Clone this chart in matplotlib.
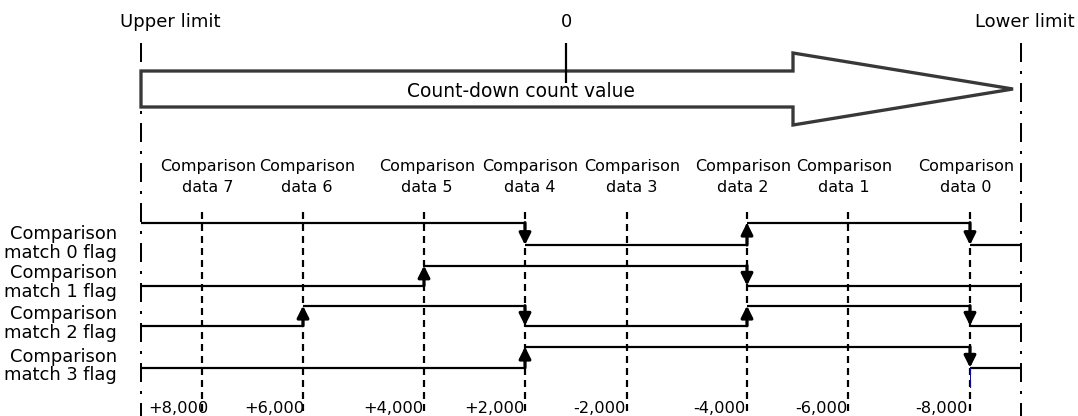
import matplotlib
matplotlib.use("Agg")
import matplotlib.pyplot as plt
from matplotlib.patches import Polygon
from matplotlib.patches import ArrowStyle

plt.rcParams['font.family'] = ['DejaVu Sans']
plt.rcParams['lines.scale_dashes'] = False

# ---------------- data ----------------
compare_ids = [7, 6, 5, 4, 3, 2, 1, 0]
count_labels = ['+8,000', '+6,000', '+4,000', '+2,000', '-2,000', '-4,000', '-6,000', '-8,000']
flag_ids = [0, 1, 2, 3]
# flag states in the 9 intervals: upper limit | d7 | d6 | d5 | d4 | d3 | d2 | d1 | d0 | lower limit
flag0_states = [1, 1, 1, 1, 0, 0, 1, 1, 0]
flag1_states = [0, 0, 0, 1, 1, 1, 0, 0, 0]
flag2_states = [0, 0, 1, 1, 0, 0, 1, 1, 0]
flag3_states = [0, 0, 0, 0, 1, 1, 1, 1, 0]
flag_states = [flag0_states, flag1_states, flag2_states, flag3_states]

# ---------------- layout (pixels) ----------------
W, H = 1078, 416
x_upper, x_lower, x_zero = 141, 1021, 566
x_lines = [202, 303, 424, 525, 627, 747, 848, 970]
x_cmp_text = [208, 307, 427, 530, 632, 743, 844, 966]
x_cnt_text = [208, 304, 423, 524, 626, 746, 847, 968]
y_high = [222.7, 265.5, 305.7, 346.7]
y_low = [245.0, 285.7, 325.7, 367.7]
y_lbl1 = [239, 278, 319, 362]
y_lbl2 = [258, 297, 338, 380]

fig = plt.figure(figsize=(W / 100, H / 100), dpi=100)
ax = fig.add_axes([0, 0, 1, 1])
ax.set_xlim(0, W)
ax.set_ylim(H, 0)
ax.axis('off')

px = 72 / 100.0  # points per pixel

# dash-dot limit lines
dashdot = (0, (19 * px, 9 * px, 3 * px, 9 * px))
for xl in (x_upper, x_lower):
    ax.plot([xl, xl], [43, H], color='black', lw=2 * px * 1.0, linestyle=dashdot,
            solid_capstyle='butt', dash_capstyle='butt', zorder=2)

# dashed comparison lines
dashed = (0, (7 * px, 5 * px))
for xl in x_lines:
    ax.plot([xl, xl], [212, H], color='black', lw=2.2 * px, linestyle=dashed,
            dash_capstyle='butt', zorder=2)

# big count-down arrow
arrow_pts = [(x_upper, 71), (793, 71), (793, 53), (1013, 89), (793, 125), (793, 107), (x_upper, 107)]
ax.add_patch(Polygon(arrow_pts, closed=True, facecolor='white', edgecolor='#383838',
                     lw=3.3 * px, joinstyle='miter', zorder=3))
# zero tick
ax.plot([x_zero, x_zero], [43, 83], color='black', lw=2.2 * px, solid_capstyle='butt', zorder=4)

# texts on top
ax.text(170, 27, 'Upper limit', ha='center', va='baseline', fontsize=13)
ax.text(x_zero, 27, '0', ha='center', va='baseline', fontsize=13)
ax.text(1024.5, 27, 'Lower limit', ha='center', va='baseline', fontsize=13)
ax.text(521, 97, 'Count-down count value', ha='center', va='baseline', fontsize=13.4, zorder=5)

for cid, xt in zip(compare_ids, x_cmp_text):
    ax.text(xt, 171, 'Comparison', ha='center', va='baseline', fontsize=11.5)
    ax.text(xt, 192, f'data {cid}', ha='center', va='baseline', fontsize=11.5)

for lbl, xt in zip(count_labels, x_cnt_text):
    ax.text(xt, 413, lbl, ha='right', va='baseline', fontsize=11.7)

# flags
bounds = [x_upper] + x_lines + [x_lower]
astyle = ArrowStyle('-|>', head_length=0.7, head_width=0.35)
for k, states in enumerate(flag_states):
    ys = [y_high[k] if s else y_low[k] for s in states]
    for i, yv in enumerate(ys):
        ax.plot([bounds[i], bounds[i + 1]], [yv, yv], color='black', lw=2.2 * px,
                solid_capstyle='butt', zorder=4)
    for i in range(1, len(ys)):
        if states[i] != states[i - 1]:
            xb = bounds[i]
            ax.annotate('', xy=(xb, ys[i]), xytext=(xb, ys[i - 1]),
                        arrowprops=dict(arrowstyle=astyle, color='black', lw=3.2 * px,
                                        shrinkA=0, shrinkB=0, mutation_scale=10),
                        zorder=5)
    ax.text(117, y_lbl1[k], 'Comparison', ha='right', va='baseline', fontsize=12.9)
    ax.text(117, y_lbl2[k], f'match {flag_ids[k]} flag', ha='right', va='baseline', fontsize=12.9)

# small blue mark under the last arrow
ax.plot([970, 970], [368, 387], color='blue', lw=1 * px, zorder=6)

fig.savefig('out.png', dpi=100)
